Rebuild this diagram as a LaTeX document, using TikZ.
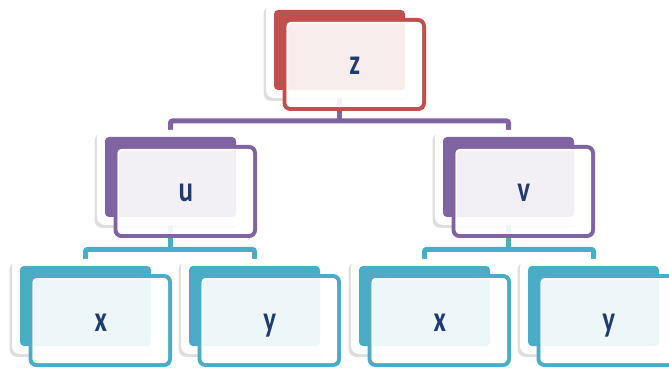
\documentclass[tikz,border=0pt]{standalone}
\usepackage{fontspec}
\newfontfamily\lblfont{Carlito}
\usetikzlibrary{shadows,backgrounds}
\definecolor{cred}{HTML}{C0504D}
\definecolor{cpurple}{HTML}{8064A2}
\definecolor{cteal}{HTML}{4BACC6}
\definecolor{ctext}{HTML}{1F3B70}
\tikzset{
  outerbox/.style={rectangle, inner sep=0, outer sep=0, fill=white, rounded corners=8pt,
    minimum width=146pt, minimum height=95pt, anchor=north west,
    drop shadow={shadow xshift=-2.5pt, shadow yshift=-3pt, opacity=0.25}},
  backbox/.style={rectangle, inner sep=0, outer sep=0, fill=#1, rounded corners=4pt,
    minimum width=131pt, minimum height=80pt, anchor=north west},
  frontbox/.style={rectangle, inner sep=0, outer sep=0, draw=#1, line width=4pt,
    fill=white, fill opacity=0.9, rounded corners=6pt,
    minimum width=139.5pt, minimum height=89pt, anchor=center},
  lbl/.style={inner sep=0, outer sep=0, anchor=base, text=ctext,
    font=\lblfont\bfseries\fontsize{36}{36}\selectfont},
  innerline/.style={draw=white, line width=1.5pt, rounded corners=4pt},
  conn/.style={draw=#1, line width=5pt, rounded corners=2pt}
}
\newcommand\mkbox[5]{%
  \node[outerbox] (#1o) at ({#2-8},{374-#3}) {};
  \node[backbox=#4] (#1b) at ({#2},{367-#3}) {};
  \node[frontbox=#4] (#1f) at ({#2+80.25},{367-#3-54.5}) {};
  \draw[innerline] ([shift={(2.75pt,-2.75pt)}]#1f.north west) rectangle ([shift={(-2.75pt,2.75pt)}]#1f.south east);
  \node[lbl] (#1t) at ([xshift=0.5pt,yshift=-10.5pt]#1f.center) {\scalebox{0.75}[1]{#5}};
}
\begin{document}
\begin{tikzpicture}[x=1pt,y=1pt]
\useasboundingbox (0,0) rectangle (669,367);
\mkbox{z}{274}{10}{cred}{z}
\mkbox{u}{105}{137}{cpurple}{u}
\mkbox{v}{443}{137}{cpurple}{v}
\mkbox{xa}{20}{266}{cteal}{x}
\mkbox{ya}{189}{266}{cteal}{y}
\mkbox{xb}{359}{266}{cteal}{x}
\mkbox{yb}{528}{266}{cteal}{y}
\begin{pgfonlayer}{background}
\coordinate (zj) at (zb.center |- 0,246);
\coordinate (uj) at (ub.center |- 0,117.5);
\coordinate (vj) at (vb.center |- 0,117.5);
\draw[conn=cpurple] (zb.center) -- (zj);
\draw[conn=cpurple] (ub.north) |- (zj) -| (vb.north);
\draw[conn=cteal] (ub.center) -- (uj);
\draw[conn=cteal] (xab.north) |- (uj) -| (yab.north);
\draw[conn=cteal] (vb.center) -- (vj);
\draw[conn=cteal] (xbb.north) |- (vj) -| (ybb.north);
\end{pgfonlayer}
\end{tikzpicture}
\end{document}
